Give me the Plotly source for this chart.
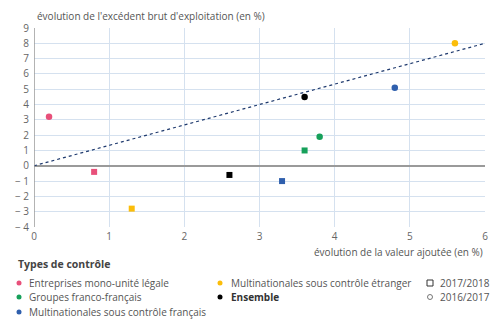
import plotly.graph_objects as go

# Evolution of value added (x) vs gross operating surplus (y), in %
groups = [
    "Entreprises mono-unité légale",
    "Groupes franco-français",
    "Multinationales sous contrôle français",
    "Multinationales sous contrôle étranger",
    "Ensemble",
]
colors = ["#e8507a", "#16a05a", "#2f5fad", "#fbbd0a", "#000000"]
va_2017 = [0.2, 3.8, 4.8, 5.6, 3.6]      # 2016/2017, valeur ajoutée
ebe_2017 = [3.2, 1.9, 5.1, 8.0, 4.5]     # 2016/2017, EBE
va_2018 = [0.8, 3.6, 3.3, 1.3, 2.6]      # 2017/2018, valeur ajoutée
ebe_2018 = [-0.4, 1.0, -1.0, -2.8, -0.6] # 2017/2018, EBE
trend_x = [0, 6]
trend_y = [0, 8]
y_ticks = list(range(-4, 10))
x_ticks = list(range(0, 7))

W, H = 500, 331
ML, MR, MT, MB = 34, 15, 28, 104
PW, PH = W - ML - MR, H - MT - MB


def px(x):
    return (x - ML) / PW


def py(y):
    return (H - MB - y) / PH


fig = go.Figure()

fig.add_trace(go.Scatter(x=trend_x, y=trend_y, mode="lines",
                         line=dict(color="#1f3a6e", width=1.2, dash="3px,3px"),
                         showlegend=False, hoverinfo="skip"))
fig.add_trace(go.Scatter(x=va_2017, y=ebe_2017, mode="markers",
                         marker=dict(symbol="circle", size=6.5, color=colors, line=dict(width=0)),
                         text=groups, showlegend=False))
fig.add_trace(go.Scatter(x=va_2018, y=ebe_2018, mode="markers",
                         marker=dict(symbol="square", size=6, color=colors, line=dict(width=0)),
                         text=groups, showlegend=False))

tick_text = [str(v) if v >= 0 else "− " + str(-v) for v in y_ticks]

fig.update_layout(
    width=W, height=H,
    margin=dict(l=ML, r=MR, t=MT, b=MB),
    paper_bgcolor="white", plot_bgcolor="white",
    font=dict(family="Open Sans", size=10, color="#555555"),
    xaxis=dict(range=[0, 6], tickvals=x_ticks, showgrid=True, gridcolor="#d5e1ef",
               gridwidth=1, zeroline=False, showline=False, ticks="",
               ticklabelstandoff=2,
               tickfont=dict(size=10, color="#666666")),
    yaxis=dict(range=[-4, 9], tickvals=y_ticks, ticktext=tick_text, showgrid=True,
               gridcolor="#d5e1ef", gridwidth=1, zeroline=True, zerolinecolor="#9a9a9a",
               zerolinewidth=1.5, showline=False, ticks="",
               ticklabelstandoff=4,
               tickfont=dict(size=10, color="#666666")),
    showlegend=False,
)

# left axis line
fig.add_shape(type="line", xref="x", yref="y", x0=0, x1=0, y0=-4, y1=9,
              line=dict(color="#9a9a9a", width=1.5), layer="above")

annotations = [
    dict(text="évolution de l'excédent brut d'exploitation (en %)", x=px(35), y=py(16),
         xanchor="left", yanchor="middle", font=dict(size=10, color="#555555")),
    dict(text="évolution de la valeur ajoutée (en %)", x=px(485), y=py(252),
         xanchor="right", yanchor="middle", font=dict(size=10, color="#555555")),
    dict(text="<b>Types de contrôle</b>", x=px(16), y=py(264),
         xanchor="left", yanchor="middle", font=dict(size=10.5, color="#444444")),
]

legend_rows = [283, 297, 312]
legend_items = [
    (groups[0], colors[0], 19, 27, legend_rows[0], False),
    (groups[1], colors[1], 19, 27, legend_rows[1], False),
    (groups[2], colors[2], 19, 27, legend_rows[2], False),
    (groups[3], colors[3], 220, 229, legend_rows[0], False),
    (groups[4], colors[4], 220, 229, legend_rows[1], True),
]
for label, col, mx, tx, ry, bold in legend_items:
    fig.add_shape(type="circle", xref="paper", yref="paper", xsizemode="pixel",
                  ysizemode="pixel", xanchor=px(mx), yanchor=py(ry),
                  x0=-2.5, x1=2.5, y0=-2.5, y1=2.5,
                  fillcolor=col, line=dict(width=0))
    annotations.append(dict(text=f"<b>{label}</b>" if bold else label, x=px(tx), y=py(ry),
                            xanchor="left", yanchor="middle",
                            font=dict(size=10, color="#333333" if bold else "#555555")))

# period symbols
fig.add_shape(type="rect", xref="paper", yref="paper", xsizemode="pixel",
              ysizemode="pixel", xanchor=px(430), yanchor=py(legend_rows[0]),
              x0=-3, x1=3, y0=-3, y1=3, line=dict(color="#333333", width=1))
fig.add_shape(type="circle", xref="paper", yref="paper", xsizemode="pixel",
              ysizemode="pixel", xanchor=px(430), yanchor=py(legend_rows[1]),
              x0=-2.5, x1=2.5, y0=-2.5, y1=2.5, line=dict(color="#555555", width=0.8))
annotations.append(dict(text="2017/2018", x=px(438), y=py(legend_rows[0]),
                        xanchor="left", yanchor="middle", font=dict(size=10, color="#555555")))
annotations.append(dict(text="2016/2017", x=px(438), y=py(legend_rows[1]),
                        xanchor="left", yanchor="middle", font=dict(size=10, color="#555555")))

for a in annotations:
    a.update(xref="paper", yref="paper", showarrow=False)
fig.update_layout(annotations=annotations)

fig.write_html("out.html")
